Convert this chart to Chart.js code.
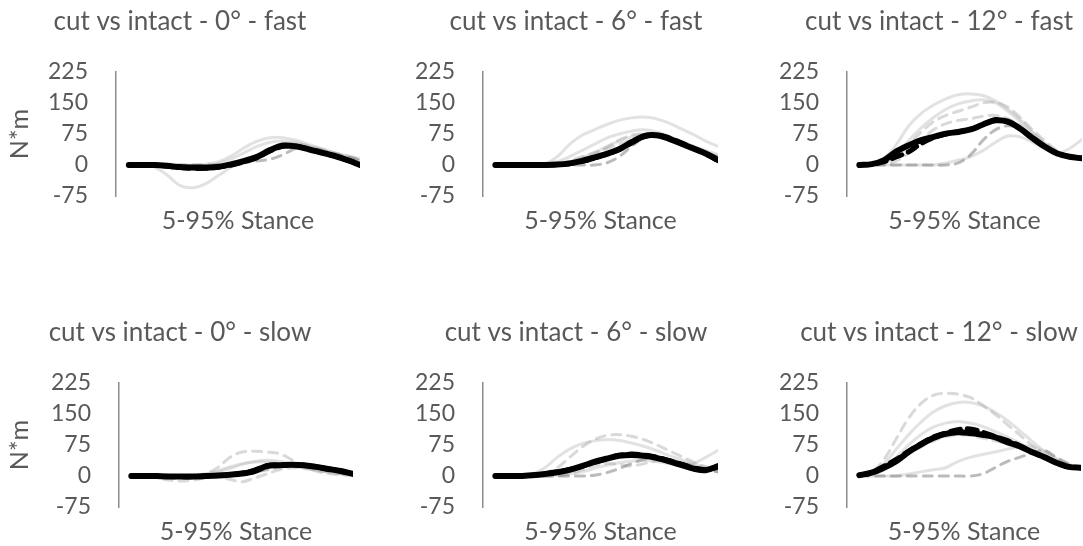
<!DOCTYPE html>
<html>
<head>
<meta charset="utf-8">
<script src="https://cdn.jsdelivr.net/npm/chart.js@4.4.1/dist/chart.umd.min.js"></script>
<style>
  html, body { margin: 0; padding: 0; background: #fff; }
  #wrap { position: relative; width: 1083px; height: 546px; overflow: hidden; }
  canvas { position: absolute; }
</style>
</head>
<body>
<div id="wrap"></div>
<script>
// x = % of stance, 5..95
const stance = [5, 10, 15, 20, 25, 30, 35, 40, 45, 50, 55, 60, 65, 70, 75, 80, 85, 90, 95];
const yTicks = [-75, 0, 75, 150, 225];
const titles = [
  'cut vs intact - 0° - fast', 'cut vs intact - 6° - fast', 'cut vs intact - 12° - fast',
  'cut vs intact - 0° - slow', 'cut vs intact - 6° - slow', 'cut vs intact - 12° - slow'
];

// 0° fast
const fast0Black     = [0, 0, 0, -2, -5, -6, -6, -4, 2, 10, 20, 36, 47, 45, 38, 30, 22, 12, 0];
const fast0BlackDash = [0, 0, 0, -3, -6, -8, -8, -5, 0, 8, 18, 34, 45, 46, 38, 30, 22, 12, 2];
const fast0DarkDash  = [0, 0, 0, 0, 0, 0, 0, 0, 2, 6, 10, 14, 25, 40, 42, 36, 28, 20, 12];
const fast0Dash = [
  [0, 0, 0, -3, -8, -10, -8, -4, 0, 5, 15, 35, 50, 52, 46, 38, 30, 22, 14]
];
const fast0Solid = [
  [0, 0, 0, 0, 0, 0, 2, 8, 22, 42, 58, 66, 66, 60, 50, 40, 30, 22, 15],
  [0, 0, -5, -25, -50, -55, -45, -25, -5, 10, 25, 40, 50, 52, 45, 35, 25, 18, 10],
  [0, 0, 0, 0, -2, -4, -2, 4, 15, 30, 45, 55, 58, 54, 46, 36, 26, 18, 10]
];

// 6° fast
const fast6Black     = [0, 0, 0, 0, 0, 1, 4, 10, 18, 27, 38, 55, 70, 72, 64, 52, 40, 28, 12];
const fast6BlackDash = [0, 0, 0, 0, 0, 1, 3, 9, 17, 26, 37, 53, 68, 73, 66, 54, 41, 27, 10];
const fast6DarkDash  = [0, 0, 0, 0, 0, 0, 0, 0, 0, 5, 20, 45, 65, 70, 62, 50, 38, 26, 15];
const fast6Dash = [
  [0, 0, 0, 0, 0, 0, 2, 10, 25, 42, 60, 72, 75, 72, 64, 54, 42, 32, 20],
  [0, 0, 0, 0, 0, 3, 10, 20, 30, 40, 50, 60, 68, 72, 66, 55, 42, 30, 18]
];
const fast6Solid = [
  [0, 0, 0, 0, 2, 20, 50, 72, 85, 98, 108, 114, 116, 112, 102, 88, 74, 58, 45],
  [0, 0, 0, 0, 2, 8, 20, 35, 50, 65, 75, 82, 85, 80, 70, 58, 46, 35, 25],
  [0, 0, 0, 0, 0, 2, 8, 18, 30, 45, 58, 68, 74, 72, 64, 52, 40, 30, 20]
];

// 12° fast
const fast12Black     = [0, 2, 12, 33, 48, 60, 68, 76, 80, 86, 98, 108, 105, 88, 65, 44, 28, 20, 16];
const fast12BlackDash = [0, 2, 8, 20, 32, 52, 66, 75, 80, 86, 98, 110, 104, 88, 65, 44, 28, 20, 16];
const fast12DarkDash  = [0, 0, 0, 0, 0, 0, 0, 0, 5, 25, 60, 85, 95, 90, 70, 50, 32, 22, 16];
const fast12Dash = [
  [0, 0, 5, 20, 50, 80, 105, 120, 130, 140, 150, 152, 140, 115, 85, 58, 35, 22, 16],
  [0, 0, 2, 10, 30, 60, 85, 100, 108, 112, 118, 120, 112, 96, 72, 48, 30, 20, 16]
];
const fast12Solid = [
  [0, 2, 15, 50, 95, 125, 145, 160, 170, 172, 168, 155, 135, 110, 80, 52, 32, 22, 18],
  [0, 0, 5, 25, 60, 90, 115, 135, 148, 155, 158, 150, 130, 105, 78, 52, 32, 22, 16],
  [0, 0, 0, 0, 0, 0, 0, 5, 12, 20, 35, 55, 70, 68, 55, 40, 30, 40, 62]
];

// 0° slow
const slow0Black     = [0, 0, 0, -1, -1, -1, 0, 1, 3, 6, 12, 24, 26, 27, 26, 22, 17, 12, 5];
const slow0BlackDash = [0, 0, 0, -1, -2, -2, -1, 1, 3, 7, 14, 25, 27, 28, 26, 22, 17, 12, 5];
const slow0DarkDash  = [0, 0, 0, 0, 0, 0, 0, 2, 5, 8, 10, 15, 22, 28, 26, 20, 14, 8, 4];
const slow0Dash = [
  [0, 0, 0, 0, 0, 0, 5, 20, 45, 58, 60, 58, 54, 40, 24, 12, 6, 3, 1],
  [0, 0, -3, -10, -12, -10, -5, -2, -8, -14, -5, 5, 15, 20, 18, 14, 10, 6, 3]
];
const slow0Solid = [
  [0, 0, 0, 0, 0, 2, 5, 10, 18, 28, 35, 38, 36, 30, 22, 15, 10, 6, 3],
  [0, 0, 0, 0, 0, 0, 4, 12, 22, 30, 34, 34, 30, 25, 20, 14, 9, 5, 2]
];

// 6° slow
const slow6Black     = [0, 0, 0, 2, 5, 9, 15, 24, 34, 42, 49, 51, 49, 44, 36, 27, 18, 14, 24];
const slow6BlackDash = [0, 0, 0, 2, 5, 10, 16, 24, 33, 42, 50, 53, 51, 46, 38, 29, 20, 15, 22];
const slow6DarkDash  = [0, 0, 0, 0, 0, 0, 0, 0, 2, 8, 18, 30, 40, 44, 40, 32, 24, 16, 10];
const slow6Dash = [
  [0, 0, 0, 2, 8, 20, 45, 70, 88, 98, 100, 96, 88, 76, 62, 48, 34, 22, 15],
  [0, 0, 0, 0, 0, 0, 5, 15, 25, 30, 28, 24, 30, 36, 38, 34, 26, 18, 10]
];
const slow6Solid = [
  [0, 0, 0, 5, 20, 45, 65, 78, 85, 88, 86, 80, 72, 62, 50, 40, 30, 22, 16],
  [0, 0, 0, 0, 0, 2, 5, 10, 18, 26, 32, 36, 38, 35, 30, 25, 30, 45, 62]
];

// 12° slow
const slow12Black     = [2, 8, 20, 36, 58, 76, 92, 102, 106, 104, 100, 94, 82, 72, 58, 46, 32, 22, 20];
const slow12BlackDash = [2, 8, 24, 40, 60, 78, 94, 104, 112, 114, 106, 96, 86, 74, 58, 46, 32, 22, 20];
const slow12DarkDash  = [0, 0, 0, 0, 0, 0, 0, 0, 0, 0, 5, 20, 35, 45, 55, 62, 45, 30, 20];
const slow12Dash = [
  [0, 10, 40, 90, 140, 175, 195, 200, 198, 190, 172, 150, 125, 100, 75, 52, 35, 24, 20],
  [0, 5, 15, 35, 55, 70, 85, 95, 100, 98, 92, 85, 78, 68, 55, 42, 30, 22, 20]
];
const slow12Solid = [
  [0, 8, 30, 65, 100, 130, 155, 170, 178, 178, 170, 155, 135, 110, 85, 60, 40, 26, 20],
  [0, 5, 20, 45, 75, 100, 118, 128, 132, 128, 120, 108, 95, 80, 65, 50, 36, 25, 20],
  [0, 0, 0, 0, 5, 10, 15, 20, 35, 45, 52, 58, 65, 70, 72, 60, 42, 28, 20]
];

const FONT = 'Lato, "Open Sans", sans-serif';
const TEXT = '#595959';

// placement of each small chart on the page (titleX is relative to the canvas)
const panels = [
  { title: titles[0], black: fast0Black, blackDash: fast0BlackDash, darkDash: fast0DarkDash, dash: fast0Dash, solid: fast0Solid,
    left: 0, top: 0, width: 360, padR: 0, axisW: 116, titleX: 180, yTitle: true },
  { title: titles[1], black: fast6Black, blackDash: fast6BlackDash, darkDash: fast6DarkDash, dash: fast6Dash, solid: fast6Solid,
    left: 361, top: 0, width: 357, padR: 0, axisW: 122, titleX: 215, yTitle: false },
  { title: titles[2], black: fast12Black, blackDash: fast12BlackDash, darkDash: fast12DarkDash, dash: fast12Dash, solid: fast12Solid,
    left: 722, top: 0, width: 361, padR: 1, axisW: 125, titleX: 217, yTitle: false },
  { title: titles[3], black: slow0Black, blackDash: slow0BlackDash, darkDash: slow0DarkDash, dash: slow0Dash, solid: slow0Solid,
    left: 0, top: 311, width: 360, padR: 7, axisW: 119, titleX: 180, yTitle: true },
  { title: titles[4], black: slow6Black, blackDash: slow6BlackDash, darkDash: slow6DarkDash, dash: slow6Dash, solid: slow6Solid,
    left: 361, top: 311, width: 357, padR: 0, axisW: 122, titleX: 215, yTitle: false },
  { title: titles[5], black: slow12Black, blackDash: slow12BlackDash, darkDash: slow12DarkDash, dash: slow12Dash, solid: slow12Solid,
    left: 722, top: 311, width: 361, padR: 2, axisW: 125, titleX: 217, yTitle: false }
];

// the chart title in the reference is not centred on the canvas, move its box
const titleShift = {
  id: 'titleShift',
  afterLayout(chart, args, opts) {
    const t = chart.titleBlock;
    if (t && opts.x != null) {
      t.left = opts.x - 170;
      t.right = opts.x + 170;
    }
  }
};

const toPoints = vals => vals.map((v, i) => ({ x: stance[i], y: v }));

function makeChart(p) {
  const canvas = document.createElement('canvas');
  canvas.width = p.width;
  canvas.height = 238;
  canvas.style.left = p.left + 'px';
  canvas.style.top = p.top + 'px';
  document.getElementById('wrap').appendChild(canvas);

  // first dataset is drawn on top
  const datasets = [
    { data: toPoints(p.black), borderColor: '#000', borderWidth: 6 },
    { data: toPoints(p.blackDash), borderColor: '#000', borderWidth: 5, borderDash: [10, 7] },
    { data: toPoints(p.darkDash), borderColor: 'rgba(120,120,120,0.5)', borderWidth: 3, borderDash: [9, 7] },
    ...p.dash.map(d => ({ data: toPoints(d), borderColor: 'rgba(170,170,170,0.45)', borderWidth: 3, borderDash: [9, 7] })),
    ...p.solid.map(d => ({ data: toPoints(d), borderColor: 'rgba(190,190,190,0.45)', borderWidth: 3 }))
  ];

  new Chart(canvas, {
    type: 'line',
    data: { datasets },
    plugins: [titleShift],
    options: {
      responsive: false,
      animation: false,
      layout: { padding: { left: 0, right: p.padR, top: 0, bottom: 0 } },
      elements: {
        point: { radius: 0 },
        line: { tension: 0.35, borderCapStyle: 'round', borderJoinStyle: 'round', fill: false }
      },
      plugins: {
        legend: { display: false },
        tooltip: { enabled: false },
        titleShift: { x: p.titleX },
        title: {
          display: true, text: p.title, color: TEXT,
          font: { family: FONT, size: 26, weight: 'normal' },
          padding: { top: 6, bottom: 34.8 }
        }
      },
      scales: {
        x: {
          type: 'linear', min: 0, max: 95,
          ticks: { display: false },
          grid: { display: false, drawTicks: false },
          border: { display: false },
          title: {
            display: true, text: '5-95% Stance', color: TEXT,
            font: { family: FONT, size: 25 },
            padding: { top: 10, bottom: 2 }
          }
        },
        y: {
          min: -75, max: 225,
          afterBuildTicks: s => { s.ticks = yTicks.map(v => ({ value: v })); },
          afterFit: s => { s.width = p.axisW; },
          ticks: { color: TEXT, padding: 28, font: { family: FONT, size: 23 } },
          grid: { display: false, drawTicks: false },
          border: { display: true, color: '#8c8c8c', width: 1.5 },
          title: {
            display: p.yTitle, text: 'N*m', color: TEXT,
            font: { family: FONT, size: 25 },
            padding: { top: 4.5, bottom: 0 }
          }
        }
      }
    }
  });
}

panels.forEach(makeChart);
</script>
</body>
</html>
